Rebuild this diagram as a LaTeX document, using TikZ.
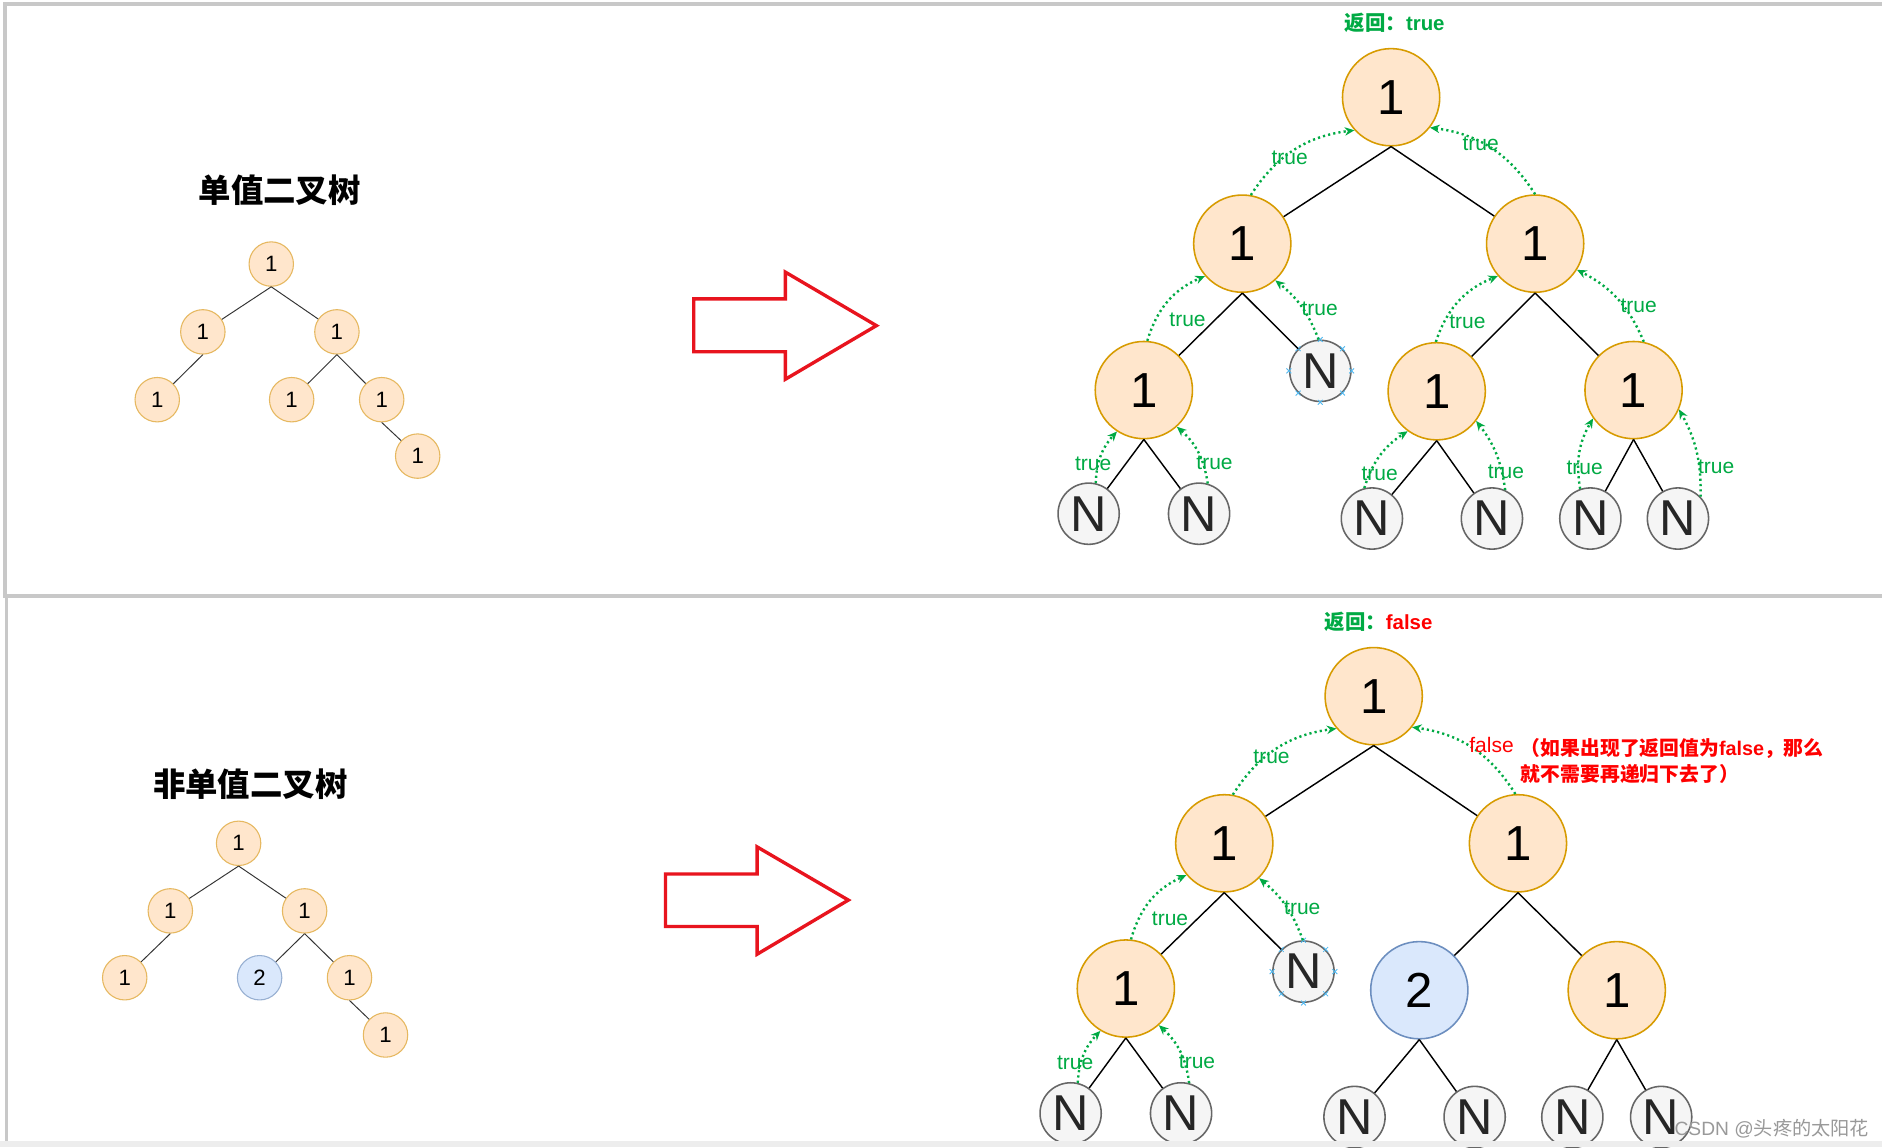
\documentclass[tikz,border=0pt]{standalone}
\usepackage{fontspec}
\setmainfont{Liberation Sans}
\newfontfamily\cjk{Noto Sans CJK SC}
\usetikzlibrary{arrows.meta}
\definecolor{nfill}{HTML}{FFE6CC}
\definecolor{nstroke}{HTML}{D79B00}
\definecolor{sstroke}{HTML}{E6B860}
\definecolor{gfill}{HTML}{F5F5F5}
\definecolor{gstroke}{HTML}{666666}
\definecolor{bfill}{HTML}{DAE8FC}
\definecolor{bstroke}{HTML}{6C8EBF}
\definecolor{grn}{HTML}{00AA44}
\definecolor{arrred}{HTML}{E8141E}
\definecolor{framegray}{HTML}{C8C8C8}
\definecolor{xblue}{HTML}{4FB8F0}
\begin{document}
\begin{tikzpicture}[x=1pt,y=1pt,
  big/.style={circle, draw=nstroke, fill=nfill, line width=1.3pt, minimum size=81pt, inner sep=0pt, font=\fontsize{41}{41}\selectfont},
  bigb/.style={big, draw=bstroke, fill=bfill},
  nil/.style={circle, draw=gstroke, fill=gfill, line width=1.3pt, minimum size=51pt, inner sep=0pt, font=\fontsize{42}{42}\selectfont, text=black!85},
  small/.style={circle, draw=sstroke, fill=nfill, line width=0.9pt, minimum size=37pt, inner sep=0pt, font=\fontsize{18.5}{18.5}\selectfont},
  smallb/.style={small, draw=bstroke!70, fill=bfill},
  edge/.style={line width=1.2pt, black},
  sedge/.style={line width=0.8pt, black!80},
  ret/.style={draw=grn, line width=2pt, dash pattern=on 1.8pt off 2.6pt, -{Stealth[length=8pt,width=7pt]}},
  lbl/.style={text=grn, font=\fontsize{17.5}{17.5}\selectfont, inner sep=0pt},
  ttl/.style={font=\cjk\bfseries\fontsize{27}{27}\selectfont, inner sep=0pt},
  blockarrow/.style={draw=arrred, line width=2.8pt, miter limit=10},
  xmark/.style={draw=xblue, line width=0.7pt}
]
\useasboundingbox (0,0) rectangle (1568,-956);
\fill[white] (0,0) rectangle (1568,-956);
% frames
\draw[framegray, line width=3pt] (1568,-3.5) -- (4,-3.5) -- (4,-496.5) -- (1568,-496.5);
\draw[framegray, line width=3pt] (5.5,-496.5) -- (5.5,-956);

% ---------- top small tree ----------
\node[ttl] (title1) at (233,-158.6) {单值二叉树};
\node[small] (sa0) at (226,-220) {1};
\node[small] (sa1) at (169,-276.5) {1};
\node[small] (sa2) at (280.7,-276.5) {1};
\node[small] (sa3) at (131,-333) {1};
\node[small] (sa4) at (243,-333) {1};
\node[small] (sa5) at (318,-333) {1};
\node[small] (sa6) at (348,-380) {1};
\draw[sedge] (sa0.south) -- (sa1);
\draw[sedge] (sa0.south) -- (sa2);
\draw[sedge] (sa1.south) -- (sa3);
\draw[sedge] (sa2.south) -- (sa4);
\draw[sedge] (sa2.south) -- (sa5);
\draw[sedge] (sa5.south) -- (sa6);

% ---------- bottom small tree ----------
\node[ttl] (title2) at (208.5,-653.4) {非单值二叉树};
\node[small] (sb0) at (198.8,-702.6) {1};
\node[small] (sb1) at (141.9,-758.9) {1};
\node[small] (sb2) at (253.8,-758.9) {1};
\node[small] (sb3) at (103.9,-814.6) {1};
\node[smallb] (sb4) at (216.3,-814.6) {2};
\node[small] (sb5) at (291.2,-814.6) {1};
\node[small] (sb6) at (321.2,-862.3) {1};
\draw[sedge] (sb0.south) -- (sb1);
\draw[sedge] (sb0.south) -- (sb2);
\draw[sedge] (sb1.south) -- (sb3);
\draw[sedge] (sb2.south) -- (sb4);
\draw[sedge] (sb2.south) -- (sb5);
\draw[sedge] (sb5.south) -- (sb6);

% ---------- block arrows ----------
\draw[blockarrow] (578,-249) -- (654.3,-249) -- (654.3,-226.7) -- (730.2,-271.3) -- (654.3,-316) -- (654.3,-293) -- (578,-293) -- cycle;
\draw[blockarrow] (554.4,-728.2) -- (630.8,-728.2) -- (630.8,-705.6) -- (706.8,-749.9) -- (630.8,-795) -- (630.8,-771.9) -- (554.4,-771.9) -- cycle;

% ---------- top big tree ----------
\node[text=grn, font=\bfseries\fontsize{17}{17}\selectfont, inner sep=0pt] (ret1) at (1162,-19) {{\cjk 返回：}true};
\node[big] (t0) at (1159,-81) {1};
\node[big] (t1) at (1035,-203) {1};
\node[big] (t2) at (1279,-203) {1};
\node[big] (t3) at (953,-325) {1};
\node[nil] (tN1) at (1100,-309) {N};
\node[big] (t4) at (1197,-326) {1};
\node[big] (t5) at (1361,-325) {1};
\node[nil] (tN2) at (907,-428) {N};
\node[nil] (tN3) at (999,-428) {N};
\node[nil] (tN4) at (1143,-432) {N};
\node[nil] (tN5) at (1243,-432) {N};
\node[nil] (tN6) at (1325,-432) {N};
\node[nil] (tN7) at (1398,-432) {N};
\foreach \a in {0,45,...,315} {\draw[xmark] (tN1.\a) +(-2,-2) -- +(2,2) (tN1.\a) +(-2,2) -- +(2,-2);}
\draw[edge] (t0.south) -- (t1);
\draw[edge] (t0.south) -- (t2);
\draw[edge] (t1.south) -- (t3);
\draw[edge] (t1.south) -- (tN1);
\draw[edge] (t2.south) -- (t4);
\draw[edge] (t2.south) -- (t5);
\draw[edge] (t3.south) -- (tN2);
\draw[edge] (t3.south) -- (tN3);
\draw[edge] (t4.south) -- (tN4);
\draw[edge] (t4.south) -- (tN5);
\draw[edge] (t5.south) -- (tN6);
\draw[edge] (t5.south) -- (tN7);
\draw[ret] (t1.80) to[bend left=25] (t0.222);
\draw[ret] (t2.90) to[bend right=25] (t0.322);
\draw[ret] (t3.86) to[bend left=25] (t1.221);
\draw[ret] (tN1.93) to[bend right=15] (t1.312);
\draw[ret] (t4.91) to[bend left=25] (t2.221);
\draw[ret] (t5.78) to[bend right=20] (t2.328);
\draw[ret] (tN2.77) to[bend left=20] (t3.237);
\draw[ret] (tN3.74) to[bend right=20] (t3.312);
\draw[ret] (tN4.104) to[bend left=20] (t4.234);
\draw[ret] (tN5.65) to[bend right=15] (t4.323);
\draw[ret] (tN6.109) to[bend left=20] (t5.215);
\draw[ret] (tN7.44) to[bend right=15] (t5.337);
\node[lbl] (lt1) at (1074.5,-131.3) {true};
\node[lbl] (lt2) at (1233.6,-119.6) {true};
\node[lbl] (lt3) at (989.4,-266.2) {true};
\node[lbl] (lt4) at (1099.5,-257.6) {true};
\node[lbl] (lt5) at (1222.6,-267.8) {true};
\node[lbl] (lt6) at (1365.3,-255) {true};
\node[lbl] (lt7) at (910.8,-386.4) {true};
\node[lbl] (lt8) at (1011.9,-385.2) {true};
\node[lbl] (lt9) at (1149.5,-394.7) {true};
\node[lbl] (lt10) at (1254.6,-392.8) {true};
\node[lbl] (lt11) at (1320.2,-389.6) {true};
\node[lbl] (lt12) at (1429.8,-389) {true};

% ---------- bottom big tree ----------
\node[font=\bfseries\fontsize{17}{17}\selectfont, inner sep=0pt] (ret2) at (1148.5,-518.4) {\textcolor{grn}{\cjk 返回：}\textcolor{red}{false}};
\node[big] (b0) at (1144.5,-580) {1};
\node[big] (b1) at (1020,-702.6) {1};
\node[big] (b2) at (1264.7,-702.6) {1};
\node[big] (b3) at (938,-823.6) {1};
\node[nil] (bN1) at (1086,-809.5) {N};
\node[bigb] (b4) at (1182.5,-825) {2};
\node[big] (b5) at (1347,-825) {1};
\node[nil] (bN2) at (892,-927.6) {N};
\node[nil] (bN3) at (984,-927.6) {N};
\node[nil] (bN4) at (1128.5,-930.6) {N};
\node[nil] (bN5) at (1228.6,-930.6) {N};
\node[nil] (bN6) at (1310,-930.6) {N};
\node[nil] (bN7) at (1384,-930.6) {N};
\foreach \a in {0,45,...,315} {\draw[xmark] (bN1.\a) +(-2,-2) -- +(2,2) (bN1.\a) +(-2,2) -- +(2,-2);}
\draw[edge] (b0.south) -- (b1);
\draw[edge] (b0.south) -- (b2);
\draw[edge] (b1.south) -- (b3);
\draw[edge] (b1.south) -- (bN1);
\draw[edge] (b2.south) -- (b4);
\draw[edge] (b2.south) -- (b5);
\draw[edge] (b3.south) -- (bN2);
\draw[edge] (b3.south) -- (bN3);
\draw[edge] (b4.south) -- (bN4);
\draw[edge] (b4.south) -- (bN5);
\draw[edge] (b5.south) -- (bN6);
\draw[edge] (b5.south) -- (bN7);
\draw[ret] (b1.80) to[bend left=25] (b0.221);
\draw[ret] (b2.93) to[bend right=25] (b0.321);
\draw[ret] (b3.84) to[bend left=25] (b1.220);
\draw[ret] (bN1.91) to[bend right=15] (b1.315);
\draw[ret] (bN2.77) to[bend left=20] (b3.239);
\draw[ret] (bN3.75) to[bend right=20] (b3.312);
\node[lbl] (lb1) at (1059.4,-630.8) {true};
\node[lbl] (lb3) at (974.8,-765.5) {true};
\node[lbl] (lb4) at (1085,-756.7) {true};
\node[lbl] (lb5) at (895.8,-885.5) {true};
\node[lbl] (lb6) at (997.3,-884.5) {true};
\node[lbl, text=red, anchor=west] (lbf) at (1224,-621) {false};
\node[anchor=west, align=left, text=red, inner sep=0pt, font=\bfseries\fontsize{16.5}{21}\selectfont] (note) at (1267,-634) {{\cjk （如果出现了返回值为}false{\cjk ，那么}\\{\cjk 就不需要再递归下去了）}};

% bottom strip and watermark
\fill[black!7] (0,-951) rectangle (1568,-956);
\node[anchor=west, text=black!40, inner sep=0pt, font=\fontsize{16}{16}\selectfont] (wm) at (1395,-940) {CSDN @{\cjk 头疼的太阳花}};
\end{tikzpicture}
\end{document}
